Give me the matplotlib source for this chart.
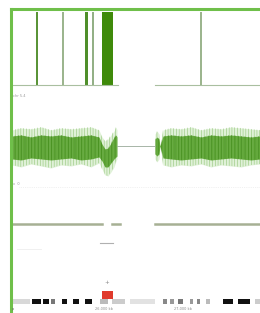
import matplotlib.pyplot as plt
from matplotlib.patches import Rectangle

# genome browser view, x in kb from window start, y in track rows (top = 0)
bar_pos = [24.5, 51.5, 74.5, 81.5, 91, 189.5]
bar_width = [2.2, 2.0, 2.2, 2.0, 11, 1.8]
bar_color = ['#5a9438', '#9cb58e', '#4f8f2a', '#93b086', '#3f8a0a', '#9cb58e']

# coverage envelope of the middle track (outer and core)
cov_x = [1, 10, 20, 30, 40, 50, 60, 70, 80, 88, 91, 94, 97, 100, 103, 105, 106]
cov_outer_top = [121, 119, 120, 118, 121, 119, 120, 119, 118, 121, 128, 132, 130, 126, 122, 118, 121]
cov_outer_bot = [156, 158, 155, 157, 159, 156, 157, 155, 158, 154, 160, 166, 167, 163, 158, 152, 150]
cov_core_top = [127, 126, 128, 126, 127, 126, 128, 127, 126, 128, 135, 140, 139, 134, 128, 126, 128]
cov_core_bot = [150, 151, 149, 150, 151, 150, 149, 151, 150, 148, 152, 158, 158, 154, 150, 148, 147]

cov2_x = [144, 146, 148, 149, 152, 160, 170, 180, 190, 200, 210, 220, 230, 240, 249]
cov2_outer_top = [125, 122, 125, 137, 121, 119, 120, 118, 121, 119, 120, 118, 119, 120, 121]
cov2_outer_bot = [150, 153, 150, 137, 156, 158, 156, 157, 155, 158, 156, 157, 158, 156, 155]
cov2_core_top = [130, 128, 130, 137, 127, 126, 127, 126, 128, 126, 127, 126, 127, 128, 127]
cov2_core_bot = [145, 147, 145, 137, 149, 150, 151, 150, 149, 151, 150, 149, 150, 151, 150]

gene_segments = [(1, 91), (101, 109), (144, 249)]

ideo_start = [1, 21, 32, 40, 51, 62, 74, 89, 101, 119, 152, 159, 167, 179, 186, 195, 212, 227, 244]
ideo_end = [19, 30, 38, 44, 56, 68, 81, 97, 114, 144, 156, 163, 172, 182, 189, 199, 222, 239, 249]
ideo_color = ['#d8d8d8', '#111111', '#111111', '#777777', '#111111', '#111111', '#111111',
              '#bbbbbb', '#cccccc', '#e2e2e2', '#888888', '#999999', '#777777', '#999999',
              '#888888', '#bbbbbb', '#111111', '#111111', '#cccccc']

plt.rcParams['hatch.linewidth'] = 0.4

fig = plt.figure(figsize=(2.6, 3.13), dpi=100)
ax = fig.add_axes([11 / 260, 0, 1 - 11 / 260, 1 - 9 / 313])
ax.set_xlim(0, 249)
ax.set_ylim(304, 0)
ax.set_xticks([])
ax.set_yticks([])
for side in ['right', 'bottom']:
    ax.spines[side].set_visible(False)
for side in ['left', 'top']:
    ax.spines[side].set_color('#6fbf4a')
    ax.spines[side].set_linewidth(2.2)

# top track: feature bars with baseline
ax.plot([0, 107], [76, 76], color='#a9bfa0', lw=0.8)
ax.plot([144, 249], [76, 76], color='#a9bfa0', lw=0.8)
for x, w, c in zip(bar_pos, bar_width, bar_color):
    ax.add_patch(Rectangle((x, 3), w, 73, color=c, lw=0))
ax.text(2, 87, 'chr 5.4', fontsize=2.5, color='#999999', va='center')

# middle track: coverage, drawn as fuzzy outer band and dense core
for xs, ot, ob, ct, cb in [(cov_x, cov_outer_top, cov_outer_bot, cov_core_top, cov_core_bot),
                           (cov2_x, cov2_outer_top, cov2_outer_bot, cov2_core_top, cov2_core_bot)]:
    ax.fill_between(xs, ot, ob, color='#a8d890', alpha=0.35, lw=0)
    ax.fill_between(xs, ot, ob, facecolor='none', edgecolor='#5fa83a', alpha=0.6,
                    hatch='||||||', lw=0)
    ax.fill_between(xs, ct, cb, color='#4a9a1c', alpha=0.8, lw=0)
    ax.fill_between(xs, ct, cb, facecolor='none', edgecolor='#2f7a08', alpha=0.7,
                    hatch='|||||', lw=0)
ax.plot([106, 144], [137, 137], color='#99aa99', lw=0.6)

# lower tracks
ax.text(2, 175, 'x  0', fontsize=2.5, color='#999999', va='center')
ax.plot([8, 249], [178, 178], color='#e4e4e4', lw=0.5, ls=':')
for a, b in gene_segments:
    ax.plot([a, b], [215, 215], color='#a6b094', lw=1.8)
ax.plot([89, 102], [234, 234], color='#b0b0b0', lw=0.8)
ax.plot([6, 30], [240, 240], color='#eeeeee', lw=0.6)
ax.text(96, 273, '+', fontsize=4, color='#888888', ha='center', va='center')
ax.add_patch(Rectangle((91, 282), 11, 8, color='#e03a2c', lw=0))

# chromosome ideogram
for s, e, c in zip(ideo_start, ideo_end, ideo_color):
    ax.add_patch(Rectangle((s, 290), e - s, 5, color=c, lw=0))
ax.text(1, 300, 'p', fontsize=2.5, color='#666666', va='center')
ax.text(93, 300, '26,000 kb', fontsize=2.5, color='#888888', ha='center', va='center')
ax.text(172, 300, '27,000 kb', fontsize=2.5, color='#888888', ha='center', va='center')

fig.savefig('out.png', dpi=100)
